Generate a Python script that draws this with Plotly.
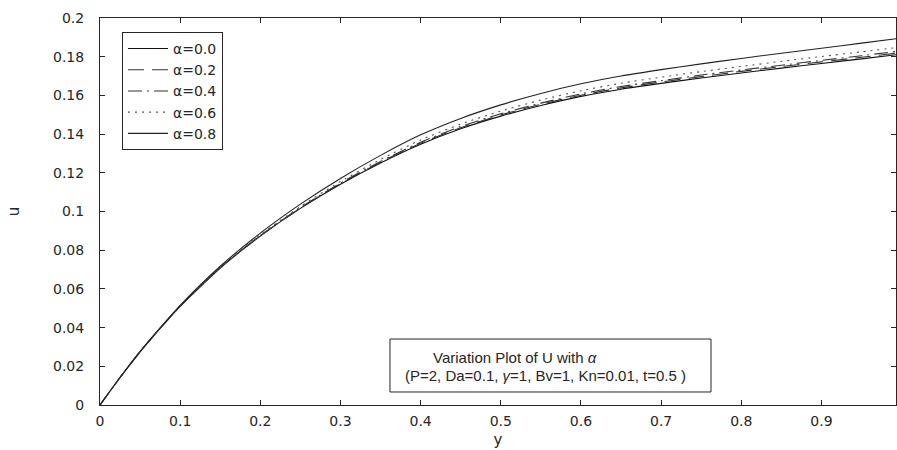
import plotly.graph_objects as go

# ---- data ----
y_pos = [0, 0.025, 0.05, 0.075, 0.1, 0.15, 0.2, 0.25, 0.3, 0.35, 0.4, 0.45,
         0.5, 0.55, 0.6, 0.65, 0.7, 0.75, 0.8, 0.85, 0.9, 0.95, 0.995]

u_a00 = [0, 0.0142, 0.0275, 0.0396, 0.0510, 0.0708, 0.0873, 0.1016, 0.1141, 0.1251, 0.1348, 0.1428,
         0.1493, 0.1548, 0.1595, 0.1632, 0.1662, 0.1690, 0.1716, 0.1741, 0.1765, 0.1789, 0.1811]
u_a02 = [0, 0.0142, 0.0275, 0.0396, 0.0510, 0.0709, 0.0875, 0.1018, 0.1144, 0.1255, 0.1353, 0.1433,
         0.1499, 0.1554, 0.1601, 0.1639, 0.1669, 0.1697, 0.1724, 0.1749, 0.1773, 0.1797, 0.1819]
u_a04 = [0, 0.0142, 0.0275, 0.0397, 0.0511, 0.0710, 0.0876, 0.1020, 0.1147, 0.1259, 0.1358, 0.1439,
         0.1505, 0.1560, 0.1608, 0.1646, 0.1676, 0.1705, 0.1731, 0.1756, 0.1781, 0.1805, 0.1828]
u_a06 = [0, 0.0142, 0.0276, 0.0397, 0.0512, 0.0712, 0.0880, 0.1026, 0.1155, 0.1269, 0.1370, 0.1452,
         0.1519, 0.1576, 0.1624, 0.1663, 0.1694, 0.1723, 0.1750, 0.1776, 0.1801, 0.1825, 0.1848]
u_a08 = [0, 0.0142, 0.0277, 0.0399, 0.0515, 0.0717, 0.0888, 0.1038, 0.1171, 0.1290, 0.1396, 0.1481,
         0.1551, 0.1610, 0.1660, 0.1700, 0.1733, 0.1763, 0.1791, 0.1818, 0.1844, 0.1870, 0.1894]

series_names = ["α=0.0", "α=0.2", "α=0.4", "α=0.6", "α=0.8"]
series_values = [u_a00, u_a02, u_a04, u_a06, u_a08]

x_tickvals = [0, 0.1, 0.2, 0.3, 0.4, 0.5, 0.6, 0.7, 0.8, 0.9]
x_ticktext = ["0", "0.1", "0.2", "0.3", "0.4", "0.5", "0.6", "0.7", "0.8", "0.9"]
y_tickvals = [0, 0.02, 0.04, 0.06, 0.08, 0.1, 0.12, 0.14, 0.16, 0.18, 0.2]
y_ticktext = ["0", "0.02", "0.04", "0.06", "0.08", "0.1", "0.12", "0.14", "0.16", "0.18", "0.2"]

# ---- styles ----
dashes = ["solid", "16px,8px", "14px,5px,2px,5px", "2px,5px", "solid"]
colors = ["#111111", "#333333", "#333333", "#555555", "#222222"]

fig = go.Figure()
for name, vals, dsh, col in zip(series_names, series_values, dashes, colors):
    fig.add_trace(go.Scatter(
        x=y_pos, y=vals, mode="lines", name=name,
        line=dict(color=col, width=1.1, dash=dsh, shape="spline", smoothing=0.6),
    ))

tick_font = dict(family="DejaVu Sans", size=14, color="#262626")

fig.update_layout(
    width=897, height=450,
    margin=dict(l=100, r=1, t=18, b=45, autoexpand=False),
    plot_bgcolor="white", paper_bgcolor="white",
    font=dict(family="Liberation Sans", size=15, color="#262626"),
    showlegend=True,
    legend=dict(
        x=0.0276, y=0.964, xanchor="left", yanchor="top",
        bgcolor="white", bordercolor="#262626", borderwidth=1,
        font=dict(family="DejaVu Sans", size=14, color="#262626"),
        tracegroupgap=0, itemwidth=40,
    ),
    xaxis=dict(
        range=[0, 0.993], tickvals=x_tickvals, ticktext=x_ticktext,
        ticks="inside", ticklen=5, tickcolor="#262626",
        showline=True, linecolor="#262626", linewidth=1, mirror="allticks",
        showgrid=False, zeroline=False, tickfont=tick_font, automargin=False,
        ticklabelstandoff=3,
        title=dict(text="y", font=dict(family="DejaVu Sans", size=15, color="#262626"), standoff=6),
    ),
    yaxis=dict(
        range=[0, 0.2], tickvals=y_tickvals, ticktext=y_ticktext,
        ticks="inside", ticklen=5, tickcolor="#262626",
        showline=True, linecolor="#262626", linewidth=1, mirror="allticks",
        showgrid=False, zeroline=False, tickfont=tick_font, automargin=False,
        ticklabelstandoff=12,
        title=dict(text="u", font=dict(family="DejaVu Sans", size=15, color="#262626"), standoff=29),
    ),
)

# text box
fig.add_shape(type="rect", xref="paper", yref="paper",
              x0=0.3643, x1=0.7676, y0=0.0336, y1=0.1705,
              line=dict(color="#262626", width=1), fillcolor="white", layer="above")
fig.add_annotation(xref="paper", yref="paper", x=0.4158, y=0.124,
                   xanchor="left", yanchor="middle", showarrow=False,
                   text="Variation Plot of U with <i>α</i>",
                   font=dict(family="Liberation Sans", size=15, color="#262626"))
fig.add_annotation(xref="paper", yref="paper", x=0.3807, y=0.075,
                   xanchor="left", yanchor="middle", showarrow=False,
                   text="(P=2, Da=0.1, <i>γ</i>=1, Bv=1, Kn=0.01, t=0.5 )",
                   font=dict(family="Liberation Sans", size=15, color="#262626"))

fig.write_html("out.html", config={"displayModeBar": False},
               post_script="document.body.style.margin='0';document.body.style.overflow='hidden';")
